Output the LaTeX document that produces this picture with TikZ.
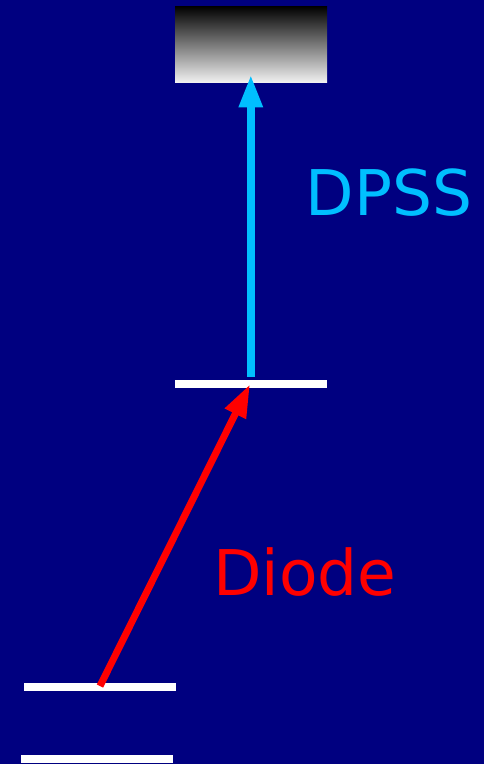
\documentclass[tikz,border=0pt]{standalone}
\usepackage{fontspec}
\setmainfont{DejaVu Sans}
\usetikzlibrary{arrows.meta}
\definecolor{bgnavy}{RGB}{0,0,128}
\definecolor{dpssblue}{RGB}{0,191,255}
\definecolor{diodered}{RGB}{255,0,0}
\tikzset{
  level/.style={fill=white, draw=none, minimum width=152pt, minimum height=7.7pt, inner sep=0pt, outer sep=0pt},
  lbl/.style={font=\fontsize{63}{70}\selectfont, inner sep=0pt, anchor=base west},
  pump/.style={line width=#1, -{Triangle[length=33pt,width=22pt]}},
}
\begin{document}
\begin{tikzpicture}[x=1pt,y=-1pt]
  \fill[bgnavy] (0,0) rectangle (484,764);
  \useasboundingbox (0,0) rectangle (484,764);
  % top band
  \node[draw=none, inner sep=0pt, outer sep=0pt, minimum width=152pt, minimum height=76pt,
        top color=black, bottom color=white!94!black] (band) at (251,44) {};
  % levels
  \node[level] (upper) at (251,383.85) {};
  \node[level] (lower) at (100,686.85) {};
  \node[level] (ground) at (97,758.85) {};
  % connectors
  \coordinate (bstart) at (250.8,376.7);
  \coordinate (btip) at (250.8,74.3);
  \coordinate (rstart) at (100,686);
  \coordinate (rtip) at (250,384.3);
  \draw[pump=8.3pt, dpssblue] (bstart) -- (btip);
  \draw[pump=7pt, diodered] (rstart) -- (rtip);
  % labels
  \node[lbl, text=dpssblue] (dpss) at (305.5,215.7) {DPSS};
  \node[lbl, text=diodered] (diode) at (213,595) {Diode};
\end{tikzpicture}
\end{document}
